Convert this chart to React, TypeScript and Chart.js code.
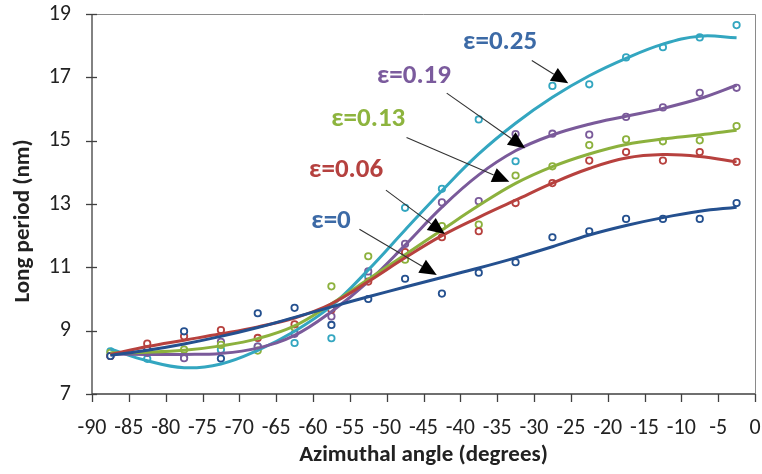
import React, { useEffect, useRef } from 'react';
import { Chart, registerables } from 'chart.js';

Chart.register(...registerables);

// Azimuthal angle (degrees) where the measurements were taken
const angles = [-87.5, -82.5, -77.5, -72.5, -67.5, -62.5, -57.5, -52.5, -47.5, -42.5, -37.5, -32.5, -27.5, -22.5, -17.5, -12.5, -7.5, -2.5];

// Measured long period (nm)
const eps0Pts = [8.2, 8.4, 8.98, 8.12, 9.55, 9.72, 9.18, 10.0, 10.64, 10.17, 10.83, 11.16, 11.95, 12.14, 12.53, 12.53, 12.53, 13.03];
const eps006Pts = [8.2, 8.59, 8.82, 9.02, 8.77, 9.2, 9.66, 10.55, 11.48, 11.95, 12.14, 13.03, 13.66, 14.37, 14.64, 14.37, 14.64, 14.33];
const eps013Pts = [8.3, 8.35, 8.4, 8.55, 8.37, 9.1, 10.4, 11.35, 11.24, 12.3, 12.35, 13.9, 14.19, 14.86, 15.04, 14.98, 15.01, 15.46];
const eps019Pts = [8.2, 8.3, 8.13, 8.65, 8.5, 8.9, 9.45, 10.87, 11.74, 13.05, 13.09, 15.21, 15.22, 15.19, 15.75, 16.05, 16.51, 16.67];
const eps025Pts = [8.35, 8.11, 8.15, 8.4, 8.5, 8.61, 8.76, 10.7, 12.88, 13.48, 15.67, 14.35, 16.73, 16.78, 17.63, 17.95, 18.26, 18.65];

// Trend lines at the same angles
const eps0Fit = [8.22, 8.38, 8.58, 8.82, 9.1, 9.42, 9.75, 10.07, 10.38, 10.68, 10.98, 11.3, 11.65, 12.02, 12.32, 12.57, 12.77, 12.9];
const eps006Fit = [8.25, 8.5, 8.7, 8.9, 9.12, 9.4, 9.85, 10.55, 11.3, 12.0, 12.58, 13.12, 13.66, 14.12, 14.45, 14.56, 14.5, 14.33];
const eps013Fit = [8.3, 8.32, 8.38, 8.52, 8.75, 9.15, 9.85, 10.62, 11.4, 12.18, 12.95, 13.65, 14.18, 14.58, 14.88, 15.05, 15.18, 15.33];
const eps019Fit = [8.26, 8.25, 8.25, 8.28, 8.45, 8.85, 9.6, 10.55, 11.7, 12.9, 13.92, 14.68, 15.18, 15.52, 15.77, 16.02, 16.33, 16.75];
const eps025Fit = [8.42, 8.05, 7.83, 7.95, 8.38, 8.98, 9.78, 10.92, 12.18, 13.42, 14.58, 15.55, 16.37, 17.05, 17.6, 18.05, 18.3, 18.25];

const seriesNames = ['ε=0', 'ε=0.06', 'ε=0.13', 'ε=0.19', 'ε=0.25'];
const seriesColors = ['#24508f', '#b7413e', '#8cb13d', '#7a5a9a', '#33a6c0'];
const labelColors = ['#3c6aa6', '#b5413f', '#8db43e', '#7b5b9d', '#3c6aa6'];

// Annotation label positions and arrows, in data units (angle, nm)
const labelX = [-57.55, -55.5, -52.5, -46.3, -34.6];
const labelY = [12.46, 14.07, 15.68, 17.04, 18.12];
const arrowFromX = [-53.7, -50.1, -47.3, -41.85, -30.3];
const arrowFromY = [12.2, 13.44, 15.1, 16.5, 17.53];
const arrowToX = [-43.2, -42.1, -33.35, -31.2, -25.35];
const arrowToY = [10.76, 12.05, 13.7, 14.76, 16.81];

const xMin = -90, xMax = 0, xStep = 5;
const yMin = 7, yMax = 19, yStep = 2;

const xTitle = 'Azimuthal angle (degrees)';
const yTitle = 'Long period (nm)';

const FONT = 'Carlito, Lato, "Open Sans", sans-serif';

const axesPlugin = {
  id: 'customAxes',
  afterDraw(chart: any) {
    const { ctx, scales } = chart;
    const xs = scales.x, ys = scales.y;
    const left = xs.getPixelForValue(xMin);
    const right = xs.getPixelForValue(xMax);
    const top = ys.getPixelForValue(yMax);
    const bottom = ys.getPixelForValue(yMin);
    ctx.save();
    // frame top/right
    ctx.strokeStyle = '#8a8a8a';
    ctx.lineWidth = 1;
    ctx.beginPath();
    ctx.moveTo(left, top + 0.5);
    ctx.lineTo(right + 0.5, top + 0.5);
    ctx.lineTo(right + 0.5, bottom);
    ctx.stroke();
    // axes
    ctx.strokeStyle = '#404040';
    ctx.lineWidth = 1.3;
    ctx.beginPath();
    ctx.moveTo(left, top);
    ctx.lineTo(left, bottom);
    ctx.lineTo(right, bottom);
    ctx.stroke();
    // y ticks (crossing)
    for (let v = yMin; v <= yMax + 1e-9; v += yStep) {
      const py = Math.round(ys.getPixelForValue(v)) + 0.5;
      ctx.beginPath();
      ctx.moveTo(left - 6, py);
      ctx.lineTo(left + 5, py);
      ctx.stroke();
    }
    // x ticks (outside)
    for (let v = xMin; v <= xMax + 1e-9; v += xStep) {
      const px = Math.round(xs.getPixelForValue(v)) + 0.5;
      ctx.beginPath();
      ctx.moveTo(px, bottom);
      ctx.lineTo(px, bottom + 8);
      ctx.stroke();
    }
    // y axis title (slightly below the plot centre, as in the original)
    ctx.translate(23, (top + bottom) / 2 + 17);
    ctx.rotate(-Math.PI / 2);
    ctx.font = `bold 23px ${FONT}`;
    ctx.fillStyle = '#222';
    ctx.textAlign = 'center';
    ctx.textBaseline = 'middle';
    ctx.fillText(yTitle, 0, 0);
    ctx.restore();
  },
};

const annotPlugin = {
  id: 'annotations',
  afterDatasetsDraw(chart: any) {
    const { ctx, scales } = chart;
    const xs = scales.x, ys = scales.y;
    ctx.save();
    for (let i = 0; i < seriesNames.length; i++) {
      const x1 = xs.getPixelForValue(arrowFromX[i]);
      const y1 = ys.getPixelForValue(arrowFromY[i]);
      const x2 = xs.getPixelForValue(arrowToX[i]);
      const y2 = ys.getPixelForValue(arrowToY[i]);
      const ang = Math.atan2(y2 - y1, x2 - x1);
      const headLen = 17, headW = 7.5;
      const bx = x2 - headLen * Math.cos(ang);
      const by = y2 - headLen * Math.sin(ang);
      ctx.strokeStyle = '#333';
      ctx.lineWidth = 1.1;
      ctx.beginPath();
      ctx.moveTo(x1, y1);
      ctx.lineTo(bx, by);
      ctx.stroke();
      ctx.fillStyle = '#000';
      ctx.beginPath();
      ctx.moveTo(x2, y2);
      ctx.lineTo(bx + headW * Math.sin(ang), by - headW * Math.cos(ang));
      ctx.lineTo(bx - headW * Math.sin(ang), by + headW * Math.cos(ang));
      ctx.closePath();
      ctx.fill();

      ctx.font = `bold 27px ${FONT}`;
      ctx.fillStyle = labelColors[i];
      ctx.textAlign = 'center';
      ctx.textBaseline = 'middle';
      ctx.fillText(seriesNames[i], xs.getPixelForValue(labelX[i]), ys.getPixelForValue(labelY[i]));
    }
    ctx.restore();
  },
};

export default function App() {
  const canvasRef = useRef<HTMLCanvasElement | null>(null);

  useEffect(() => {
    const canvas = canvasRef.current;
    if (!canvas) return;
    const pts = [eps0Pts, eps006Pts, eps013Pts, eps019Pts, eps025Pts];
    const fits = [eps0Fit, eps006Fit, eps013Fit, eps019Fit, eps025Fit];
    const datasets: any[] = [];
    for (let i = 0; i < pts.length; i++) {
      datasets.push({
        type: 'line',
        label: seriesNames[i] + ' fit',
        data: angles.map((a, k) => ({ x: a, y: fits[i][k] })),
        borderColor: seriesColors[i],
        borderWidth: 3,
        pointRadius: 0,
        tension: 0.4,
        fill: false,
        order: 0,
      });
    }
    for (let i = 0; i < pts.length; i++) {
      datasets.push({
        type: 'scatter',
        label: seriesNames[i],
        data: angles.map((a, k) => ({ x: a, y: pts[i][k] })),
        borderColor: seriesColors[i],
        backgroundColor: '#ffffff',
        borderWidth: 1.8,
        pointRadius: 3.2,
        showLine: false,
        order: 1,
      });
    }
    const hiddenTick = { display: true, drawOnChartArea: false, drawTicks: true, tickLength: 21, tickColor: 'rgba(0,0,0,0)' };
    const chart = new Chart(canvas, {
      type: 'scatter',
      data: { datasets },
      options: {
        animation: false,
        responsive: false,
        maintainAspectRatio: false,
        layout: { padding: { top: 14, right: 7, left: 0, bottom: 0 } },
        plugins: { legend: { display: false }, tooltip: { enabled: false } },
        scales: {
          x: {
            type: 'linear',
            min: xMin,
            max: xMax,
            afterFit: (s: any) => { s.height = 80; },
            ticks: {
              stepSize: xStep,
              autoSkip: false,
              maxRotation: 0,
              padding: 0,
              color: '#222',
              font: { family: FONT, size: 22 },
            },
            grid: hiddenTick,
            border: { display: false },
            title: {
              display: true,
              text: xTitle,
              color: '#222',
              font: { family: FONT, size: 23, weight: 'bold' },
              padding: { top: 0, bottom: 5 },
            },
          },
          y: {
            type: 'linear',
            min: yMin,
            max: yMax,
            afterFit: (s: any) => { s.width = 92; },
            ticks: {
              stepSize: yStep,
              padding: 0,
              color: '#222',
              font: { family: FONT, size: 22 },
            },
            grid: hiddenTick,
            border: { display: false },
            title: { display: false, text: yTitle },
          },
        },
      },
      plugins: [axesPlugin, annotPlugin],
    } as any);
    return () => chart.destroy();
  }, []);

  return (
    <div style={{ position: 'fixed', left: 0, top: 0, width: 762, height: 474, background: '#fff' }}>
      <canvas ref={canvasRef} width={762} height={474} style={{ width: 762, height: 474, display: 'block' }} />
    </div>
  );
}
